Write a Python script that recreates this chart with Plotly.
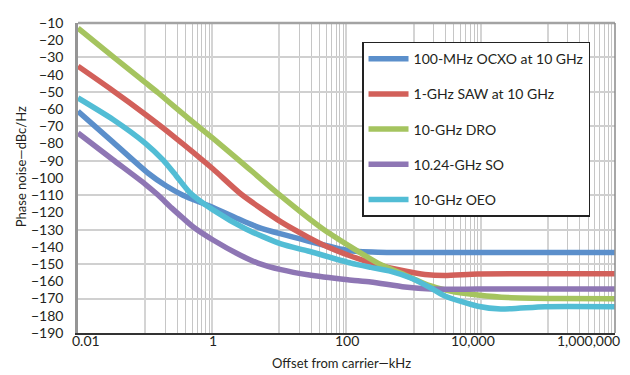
import math
import plotly.graph_objects as go

# ---- data (offset in kHz, phase noise in dBc/Hz) ----
ocxo_f = [0.01, 0.0332, 0.11, 0.205, 0.367, 1.03, 2.68, 4.8, 10.6, 26.7, 105, 294, 10000, 1e6]
ocxo_db = [-61.3, -79.2, -97.1, -104.5, -110.0, -117.1, -124.4, -128.5, -132.5, -136.6, -142.1, -143.1, -143.3, -143.3]

saw_f = [0.01, 0.0332, 0.1, 0.26, 1.03, 2.68, 10.6, 26.7, 53, 105, 294, 743, 1476, 2931, 9100, 1e5, 1e6]
saw_db = [-35.1, -49.3, -63.0, -75.5, -94.8, -109.3, -125.5, -134.3, -140.1, -144.7, -150.5, -154.0, -156.0, -156.6, -155.7, -155.6, -155.6]

dro_f = [0.01, 0.0332, 0.1, 0.156, 0.461, 1.03, 2.57, 10.1, 44.7, 294, 743, 1815, 4140, 9100, 25500, 141000, 1e6]
dro_db = [-13.0, -29.5, -44.5, -50.5, -66.0, -77.0, -90.0, -109.8, -129.6, -149.4, -156.3, -162.7, -166.2, -167.9, -169.4, -170.0, -170.1]

so_f = [0.01, 0.0332, 0.1, 0.156, 0.25, 0.367, 0.517, 1.03, 2.68, 4.8, 10.6, 26.7, 105, 232, 743, 1815, 9100, 1e5, 1e6]
so_db = [-73.9, -89.4, -103.5, -109.9, -117.5, -123.3, -128.3, -136.0, -145.0, -149.4, -153.2, -156.2, -159.1, -160.4, -163.3, -164.5, -164.5, -164.5, -164.5]

oeo_f = [0.01, 0.0332, 0.1, 0.1845, 0.288, 0.466, 1.03, 3.18, 10.6, 26.7, 116.7, 232, 460, 914, 1815, 2931, 9100, 20000, 90600, 1e6]
oeo_db = [-53.5, -66.0, -79.7, -89.5, -98.5, -108.5, -118.5, -129.6, -138.3, -142.4, -149.4, -151.9, -154.2, -158.1, -163.9, -168.5, -174.5, -176.1, -174.7, -174.7]

names = ["100-MHz OCXO at 10 GHz", "1-GHz SAW at 10 GHz", "10-GHz DRO", "10.24-GHz SO", "10-GHz OEO"]
colors = ["#5b8fcb", "#d2605a", "#a5c45f", "#8e76b4", "#52bdd5"]

x_major = [0.01, 0.1, 1, 10, 100, 1e3, 1e4, 1e5, 1e6]
x_label_vals = [0.01, 1, 100, 1e4, 1e6]
x_label_text = ["0.01", "1", "100", "10,000", "1,000,000"]
x_label_shift = [8, 1, 1, -8, -26]
x_minor = [m * d for d in (0.1, 10, 1000, 1e5) for m in range(2, 10)]

y_ticks = list(range(-190, 0, 10))
y_grid = list(range(-170, -10, 20))

series = [(ocxo_f, ocxo_db), (saw_f, saw_db), (dro_f, dro_db), (so_f, so_db), (oeo_f, oeo_db)]

FONT = "Lato"
TXT = "#231f20"
fig = go.Figure()
for i, ((fx, fy), nm, c) in enumerate(zip(series, names, colors)):
    fig.add_trace(go.Scatter(
        x=fx, y=fy, name=nm, mode="lines", legendgroup=str(i),
        line=dict(color=c, width=5.5, shape="spline", smoothing=0.6),
    ))

annotations = [
    dict(text=t, xref="x", yref="paper", x=math.log10(v), y=0,
         xanchor="center", yanchor="top", yshift=3, xshift=s,
         showarrow=False, font=dict(family=FONT, size=14, color=TXT))
    for v, t, s in zip(x_label_vals, x_label_text, x_label_shift)
]
annotations += [
    dict(text="Offset from carrier\u2014kHz", xref="paper", yref="paper",
         x=0.4916, y=-0.098, xanchor="center", yanchor="middle",
         showarrow=False, font=dict(family=FONT, size=13, color=TXT)),
    dict(text="Phase noise\u2014dBc/Hz", xref="paper", yref="paper",
         x=-0.106, y=0.535, xanchor="center", yanchor="middle", textangle=-90,
         showarrow=False, font=dict(family=FONT, size=13, color=TXT)),
]

fig.update_layout(
    width=630, height=375,
    margin=dict(l=70, r=23, t=15, b=50, autoexpand=False),
    paper_bgcolor="white", plot_bgcolor="white",
    font=dict(family=FONT, size=14, color=TXT),
    showlegend=True,
    legend=dict(
        x=0.5289, y=0.94, xanchor="left", yanchor="top",
        bgcolor="white", bordercolor="#222222", borderwidth=1.5,
        font=dict(family=FONT, size=14, color=TXT),
        tracegroupgap=14, itemwidth=40,
    ),
    xaxis=dict(
        type="log", range=[-2, 6.003], automargin=False,
        tickmode="array", tickvals=x_major, showticklabels=False,
        showgrid=True, gridcolor="#d4d4d4", gridwidth=2,
        ticks="",
        minor=dict(tickmode="array", tickvals=x_minor, showgrid=True,
                   gridcolor="#c6c6c6", gridwidth=1, ticks=""),
        showline=True, linecolor="#333333", linewidth=2,
        zeroline=False,
    ),
    yaxis=dict(
        range=[-190, -10], automargin=False,
        tickmode="array", tickvals=y_ticks,
        showgrid=False,
        ticks="outside", ticklen=9, tickcolor="rgba(0,0,0,0)",
        minor=dict(tickmode="array", tickvals=y_grid, showgrid=True,
                   gridcolor="#d0d0d0", gridwidth=2, ticks=""),
        showline=True, linecolor="#959595", linewidth=2.5,
        zeroline=False,
    ),
    annotations=annotations,
    shapes=[
        dict(type="line", xref="paper", yref="paper", x0=0, x1=1, y0=1, y1=1,
             line=dict(color="#a3a3a3", width=2.5)),
        dict(type="line", xref="paper", yref="paper", x0=1, x1=1, y0=0, y1=1,
             line=dict(color="#8a8a8a", width=1.5)),
    ],
)

fig.write_html("out.html")
